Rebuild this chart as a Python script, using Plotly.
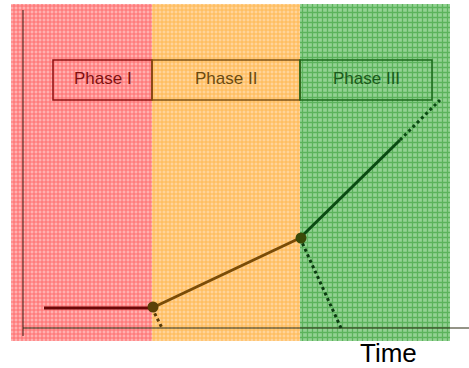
import plotly.graph_objects as go

# ---- data (chart units: x = time, y = level) ----
phase_names = ["Phase I", "Phase II", "Phase III"]
phase_start = [11, 152, 300]
phase_end = [152, 300, 450]
region_bottom = 27
region_top = 364
label_box_start = [53, 152, 300]
label_box_end = [152, 300, 432]
label_box_bottom = 268
label_box_top = 308

phase1_x = [44, 152]
phase1_y = [60, 60]
phase2_x = [152, 300]
phase2_y = [60, 130]
phase3_x = [300, 400]
phase3_y = [130, 228]
phase3_ext_x = [400, 440]
phase3_ext_y = [228, 268]
drop1_x = [152, 162]
drop1_y = [60, 40]
drop2_x = [300, 341]
drop2_y = [130, 40]
node_x = [153, 301]
node_y = [61, 130]

axis_x0 = 23
axis_x1 = 469
axis_y0 = 40
axis_y1 = 358
axis_label = "Time"

bg_colors = ["#ffb0b0", "#ffd49a", "#94d294"]
fg_colors = ["#ff2a2a", "#ff9c08", "#249424"]
box_colors = ["#901010", "#805010", "#1a6a1a"]
text_colors = ["#801010", "#6a4a10", "#1a5a1a"]

fig = go.Figure()

for i in range(3):
    fig.add_trace(go.Bar(
        x=[(phase_start[i] + phase_end[i]) / 2],
        y=[region_top - region_bottom],
        base=[region_bottom],
        width=[phase_end[i] - phase_start[i]],
        marker=dict(color=bg_colors[i], line=dict(width=0),
                    pattern=dict(shape="+", fgcolor=fg_colors[i], bgcolor=bg_colors[i],
                                 size=4 if i < 2 else 5, solidity=0.45, fillmode="overlay")),
        showlegend=False, hoverinfo="skip"))

for i in range(3):
    fig.add_shape(type="rect", x0=label_box_start[i], x1=label_box_end[i],
                  y0=label_box_bottom, y1=label_box_top,
                  line=dict(color=box_colors[i], width=1.5), fillcolor="rgba(0,0,0,0)")
    fig.add_annotation(x=(label_box_start[i] + label_box_end[i]) / 2,
                       y=(label_box_bottom + label_box_top) / 2 + 2,
                       text=phase_names[i], showarrow=False,
                       font=dict(family="Liberation Sans, Arial", size=17, color=text_colors[i]))

# axes
fig.add_trace(go.Scatter(x=[axis_x0, axis_x0], y=[axis_y0 - 8, axis_y1], mode="lines",
                         line=dict(color="#3a1a10", width=1), showlegend=False, hoverinfo="skip"))
fig.add_trace(go.Scatter(x=[axis_x0, axis_x1], y=[axis_y0, axis_y0], mode="lines",
                         line=dict(color="#2a2a10", width=1.2), showlegend=False, hoverinfo="skip"))

fig.add_trace(go.Scatter(x=phase1_x, y=phase1_y, mode="lines",
                         line=dict(color="#6a0808", width=3), showlegend=False))
fig.add_trace(go.Scatter(x=phase2_x, y=phase2_y, mode="lines",
                         line=dict(color="#7a4c08", width=3), showlegend=False))
fig.add_trace(go.Scatter(x=phase3_x, y=phase3_y, mode="lines",
                         line=dict(color="#0a4a12", width=3), showlegend=False))
fig.add_trace(go.Scatter(x=phase3_ext_x, y=phase3_ext_y, mode="lines",
                         line=dict(color="#0a4a12", width=3, dash="dot"), showlegend=False))
fig.add_trace(go.Scatter(x=drop1_x, y=drop1_y, mode="lines",
                         line=dict(color="#5a3a08", width=3, dash="dot"), showlegend=False))
fig.add_trace(go.Scatter(x=drop2_x, y=drop2_y, mode="lines",
                         line=dict(color="#0a3a10", width=3, dash="dot"), showlegend=False))
fig.add_trace(go.Scatter(x=node_x, y=node_y, mode="markers",
                         marker=dict(size=11, color=["#5a4008", "#3a4a08"], line=dict(width=0)),
                         showlegend=False))

fig.add_annotation(x=388, y=15, text=axis_label, showarrow=False,
                   font=dict(family="Liberation Sans, Arial", size=26, color="black"))

fig.update_layout(
    width=469, height=368,
    margin=dict(l=0, r=0, t=0, b=0),
    paper_bgcolor="white", plot_bgcolor="white",
    xaxis=dict(range=[0, 469], visible=False, fixedrange=True),
    yaxis=dict(range=[0, 368], visible=False, fixedrange=True),
    barmode="overlay", bargap=0,
)

fig.write_html("out.html", config={"displayModeBar": False},
               post_script="document.body.style.margin='0px';")
